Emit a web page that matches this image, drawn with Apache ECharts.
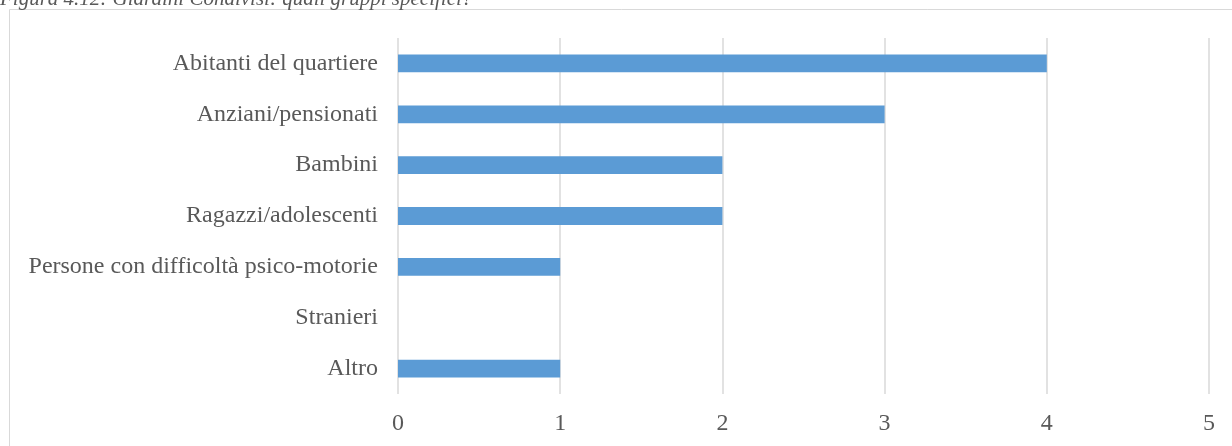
<!DOCTYPE html>
<html>
<head>
<meta charset="utf-8">
<script src="https://cdn.jsdelivr.net/npm/echarts@6/dist/echarts.min.js"></script>
<style>
  html, body { margin: 0; padding: 0; background: #fff; }
  #chart { width: 1232px; height: 446px; }
</style>
</head>
<body>
<div id="chart"></div>
<script>
// Gruppi specifici coinvolti nei Giardini Condivisi
const captionText = 'Figura 4.12: Giardini Condivisi: quali gruppi specifici?';
const categories = [
  'Abitanti del quartiere',
  'Anziani/pensionati',
  'Bambini',
  'Ragazzi/adolescenti',
  'Persone con difficoltà psico-motorie',
  'Stranieri',
  'Altro'
];
const counts = [4, 3, 2, 2, 1, 0, 1];
const valueTicks = [0, 1, 2, 3, 4, 5];

const serif = '"Liberation Serif", "DejaVu Serif", serif';
const chart = echarts.init(document.getElementById('chart'), null, { renderer: 'canvas' });

chart.setOption({
  backgroundColor: '#ffffff',
  animation: false,
  title: {
    text: captionText,
    left: 0,
    top: -11,
    padding: 0,
    textStyle: {
      fontFamily: serif,
      fontStyle: 'italic',
      fontWeight: 'normal',
      fontSize: 21,
      color: '#595959'
    }
  },
  graphic: [{
    type: 'rect',
    shape: { x: 9.5, y: 9.5, width: 1240, height: 460 },
    style: { fill: 'none', stroke: '#d9d9d9', lineWidth: 1 },
    silent: true,
    z: -1
  }],
  grid: { left: 398, right: 23, top: 38, bottom: 52, containLabel: false },
  xAxis: {
    type: 'value',
    min: valueTicks[0],
    max: valueTicks[valueTicks.length - 1],
    interval: 1,
    axisLine: { show: false },
    axisTick: { show: false },
    splitLine: { show: true, lineStyle: { color: '#d9d9d9', width: 1.5 } },
    axisLabel: {
      margin: 18,
      fontFamily: serif,
      fontSize: 24,
      color: '#595959'
    }
  },
  yAxis: {
    type: 'category',
    inverse: true,
    data: categories,
    axisLine: { show: false },
    axisTick: { show: false },
    axisLabel: {
      margin: 20,
      fontFamily: serif,
      fontSize: 24,
      color: '#595959'
    }
  },
  series: [{
    type: 'bar',
    data: counts,
    barWidth: '35%',
    itemStyle: { color: '#5b9bd5' },
    silent: true
  }]
});
</script>
</body>
</html>
